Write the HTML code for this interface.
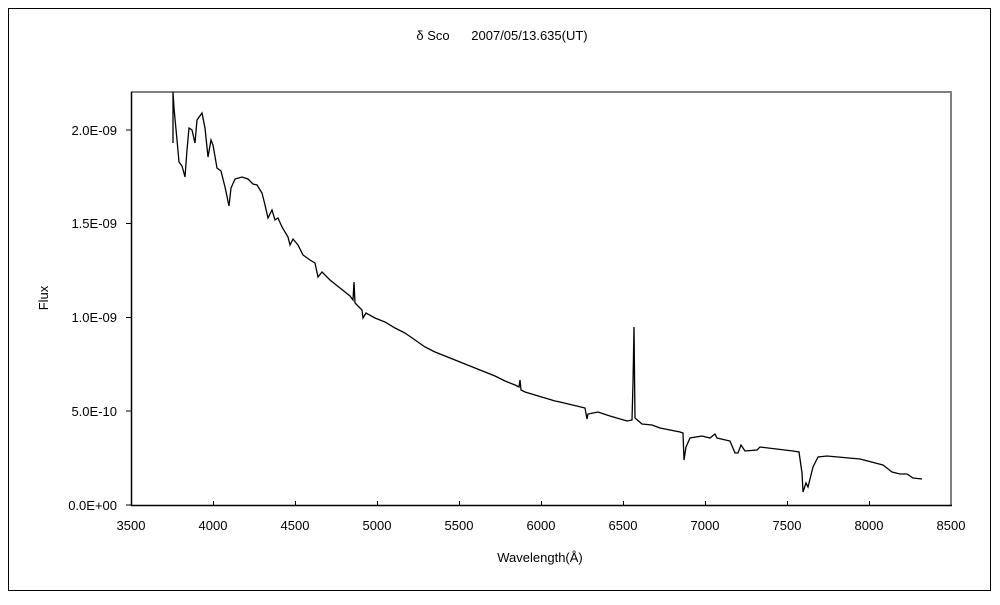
<!DOCTYPE html>
<html><head><meta charset="utf-8"><style>
body{margin:0;background:#fff;}
svg text{font-family:"Liberation Sans","Noto Sans CJK JP",sans-serif;font-size:13px;fill:#000;}
</style></head><body>
<svg width="1000" height="600" xmlns="http://www.w3.org/2000/svg">
<rect x="8.5" y="8.5" width="982" height="582" fill="#fff" stroke="#000" stroke-width="1"/>
<text x="502" y="40" text-anchor="middle" xml:space="preserve">δ Sco      2007/05/13.635(UT)</text>
<line x1="131" y1="92" x2="952" y2="92" stroke="#808080" stroke-width="2"/>
<line x1="951" y1="92" x2="951" y2="506" stroke="#808080" stroke-width="2"/>
<line x1="131.5" y1="92" x2="131.5" y2="506" stroke="#000" stroke-width="1.5"/>
<line x1="131" y1="505.5" x2="952" y2="505.5" stroke="#000" stroke-width="1.5"/>
<g stroke="#000" stroke-width="1">
<line x1="126" y1="130" x2="131" y2="130"/><line x1="126" y1="223.5" x2="131" y2="223.5"/><line x1="126" y1="317.5" x2="131" y2="317.5"/><line x1="126" y1="411" x2="131" y2="411"/><line x1="126" y1="505" x2="131" y2="505"/>
<line x1="213.5" y1="501" x2="213.5" y2="505"/><line x1="295.5" y1="501" x2="295.5" y2="505"/><line x1="377.5" y1="501" x2="377.5" y2="505"/><line x1="459.5" y1="501" x2="459.5" y2="505"/><line x1="541.5" y1="501" x2="541.5" y2="505"/><line x1="623.5" y1="501" x2="623.5" y2="505"/><line x1="705.5" y1="501" x2="705.5" y2="505"/><line x1="787.5" y1="501" x2="787.5" y2="505"/><line x1="869.5" y1="501" x2="869.5" y2="505"/>
</g>
<g text-anchor="end">
<text x="117" y="135">2.0E-09</text><text x="117" y="228">1.5E-09</text><text x="117" y="322">1.0E-09</text><text x="117" y="416">5.0E-10</text><text x="117" y="510">0.0E+00</text>
</g>
<g text-anchor="middle">
<text x="131" y="530">3500</text><text x="213" y="530">4000</text><text x="295" y="530">4500</text><text x="377" y="530">5000</text><text x="459" y="530">5500</text><text x="541" y="530">6000</text><text x="623" y="530">6500</text><text x="705" y="530">7000</text><text x="787" y="530">7500</text><text x="869" y="530">8000</text><text x="951" y="530">8500</text>
<text x="540" y="562">Wavelength(Å)</text>
</g>
<text transform="translate(48,298) rotate(-90)" text-anchor="middle">Flux</text>
<polyline fill="none" stroke="#000" stroke-width="1.3" points="173,143 173,92 174,108 177,140 179,162 182,166 185,177 187,150 189,128 192,130 195,143 197,120 202,113 205,128 208,157 211,140 213,145 217,168 221,171 225,187 229,206 231,188 235,179 242,177 248,179 253,184 257,185 262,193 265,205 268,218 272,210 275,220 278,218 282,227 288,237 290,245 293,239 298,245 303,255 310,260 315,263 318,277 322,272 330,280 340,288 350,296 353,300 354,282 355,303 358,306 362,310 363,318 366,313 375,318 385,322 395,328 405,333 415,340 425,347 435,352 445,356 455,360 465,364 475,368 485,372 495,376 505,381 515,385 519,387 520,380 521,390 525,392 535,395 545,398 555,401 560,402 585,408 587,419 588,414 598,412 610,416 627,421 632,420 633,383 634,327 635,418 642,424 652,425 660,428 680,432 683,433 684,460 686,447 690,438 702,436 710,438 715,434 717,438 730,441 735,453 738,453 741,445 745,451 757,450 760,447 793,451 799,452 802,473 803,492 806,483 808,487 813,467 818,457 827,456 860,459 883,465 892,472 900,474 907,474 913,478 922,479"/>
</svg>
</body></html>
